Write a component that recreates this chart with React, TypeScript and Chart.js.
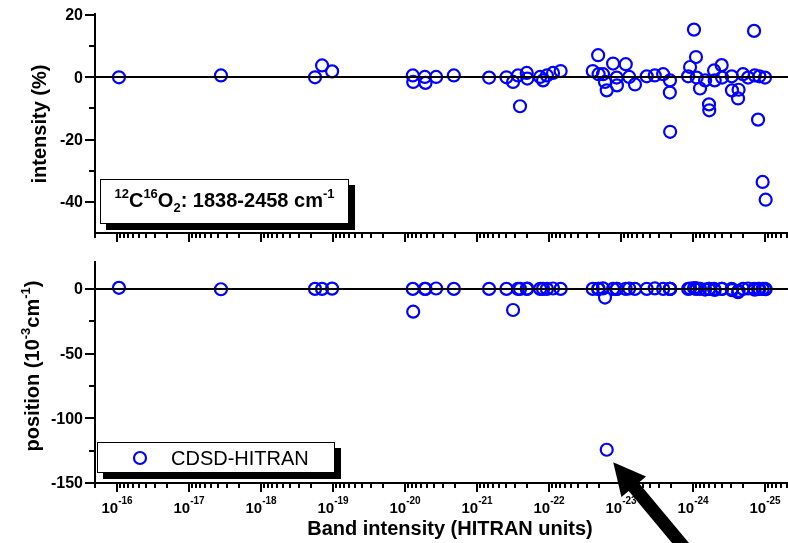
import { useEffect, useRef } from "react";
import { Chart, registerables } from "chart.js";

Chart.register(...registerables);

const FONT = '"Liberation Sans", Arial, Helvetica, sans-serif';
const BLUE = "#0000ff";

// Band intensity of each line (HITRAN units)
const bandIntensity = [
  9.4e-17, 3.6e-18, 1.78e-19, 1.42e-19, 1.03e-19,
  7.8e-21, 7.7e-21, 5.3e-21, 5.2e-21, 3.7e-21, 2.1e-21,
  6.8e-22, 3.9e-22, 3.16e-22, 2.7e-22, 2.53e-22, 2.04e-22, 2.0e-22,
  1.33e-22, 1.21e-22, 1.07e-22, 8.8e-23, 6.9e-23,
  2.47e-23, 2.08e-23, 2.05e-23, 1.78e-23, 1.67e-23, 1.58e-23, 1.29e-23,
  1.15e-23, 1.14e-23, 8.6e-24, 7.7e-24, 6.4e-24, 4.4e-24, 3.4e-24,
  2.6e-24, 2.09e-24, 2.1e-24, 2.08e-24, 1.17e-24, 1.1e-24, 9.7e-25,
  9.1e-25, 8.9e-25, 8.0e-25, 6.8e-25, 6.0e-25, 5.95e-25, 5.1e-25,
  5.0e-25, 4.0e-25, 3.95e-25, 2.9e-25, 2.88e-25, 2.37e-25, 2.33e-25,
  2.02e-25, 1.72e-25, 1.42e-25, 1.39e-25, 1.25e-25, 1.2e-25, 1.08e-25,
  1.0e-25, 9.8e-26,
];

// Relative intensity difference CDSD vs HITRAN (%)
const intensityDeviation = [
  0, 0.6, 0, 3.8, 1.9,
  0.6, -1.5, 0.1, -1.8, 0.1, 0.6,
  -0.1, 0, -1.5, 0.6, -9.3, 1.4, -0.4,
  0.1, -1.0, 0.6, 1.4, 2.0,
  2.0, 7.1, 1.0, 1.0, -1.5, -4.2, 4.4,
  -0.1, -2.6, 4.2, 0.1, -2.3, 0.3, 0.6,
  1.0, -1.0, -4.9, -17.5, 0.3, 3.3, 15.3,
  6.5, -0.1, -3.6, -1.0, -8.7, -10.6, 2.2,
  -1.0, 3.9, -0.1, 0.3, -4.2, -6.8, -4.0,
  1.0, -0.1, 14.9, 0.6, -13.6, 0.3, -33.6,
  -0.1, -39.3,
];

// Line position difference CDSD vs HITRAN (10^-3 cm^-1)
const positionDeviation = [
  0.8, -0.3, 0, 0, 0.2,
  0, -17.6, 0, 0, 0.3, 0,
  0, 0, -16.3, 0, 0, 0, 0.2,
  0, 0, 0, 0.3, 0,
  0, 0, 0, 0.4, -6.7, -124.3, 0,
  0, 0, 0, 0.3, 0, 0, 0.4,
  0, 0, 0, 0, 0, 0.3, 0.6,
  0, 0.4, 0, -0.5, 0, 0, 0,
  -0.8, 0, 0, 0, -1.0, -2.5, -1.5,
  0, 0.3, 0, -0.6, 0, 0, 0,
  0, -0.3,
];

// Decade exponents labelled on the band-intensity axis
const decadeExponents = [-16, -17, -18, -19, -20, -21, -22, -23, -24, -25];
const intensityMajorTicks = [20, 0, -20, -40];
const intensityMinorTicks = [10, -10, -30];
const positionMajorTicks = [0, -50, -100, -150];
const positionMinorTicks = [-25, -75, -125];

const X_MIN = Math.pow(10, -25.319);
const X_MAX = Math.pow(10, -15.694);

type Run = { t: string; size: number; dy?: number; weight?: string };

function fontFor(r: Run) {
  return `${r.weight ?? "bold"} ${r.size}px ${FONT}`;
}

function runsWidth(ctx: CanvasRenderingContext2D, runs: Run[]) {
  let w = 0;
  for (const r of runs) {
    ctx.font = fontFor(r);
    w += ctx.measureText(r.t).width;
  }
  return w;
}

function drawRuns(
  ctx: CanvasRenderingContext2D,
  runs: Run[],
  x: number,
  y: number,
  align: "left" | "center" | "right"
) {
  const w = runsWidth(ctx, runs);
  let cx = align === "left" ? x : align === "center" ? x - w / 2 : x - w;
  ctx.textAlign = "left";
  ctx.textBaseline = "alphabetic";
  for (const r of runs) {
    ctx.font = fontFor(r);
    ctx.fillText(r.t, cx, y + (r.dy ?? 0));
    cx += ctx.measureText(r.t).width;
  }
}

function seg(ctx: CanvasRenderingContext2D, x1: number, y1: number, x2: number, y2: number) {
  ctx.beginPath();
  ctx.moveTo(x1, y1);
  ctx.lineTo(x2, y2);
  ctx.stroke();
}

function shadowBox(ctx: CanvasRenderingContext2D, x: number, y: number, w: number, h: number) {
  ctx.fillStyle = "#000";
  ctx.fillRect(x + 6, y + 6, w, h);
  ctx.fillStyle = "#fff";
  ctx.fillRect(x, y, w, h);
  ctx.strokeStyle = "#000";
  ctx.lineWidth = 1;
  ctx.strokeRect(x + 0.5, y + 0.5, w - 1, h - 1);
}

type FrameOptions = {
  yMajor: number[];
  yMinor: number[];
  xLabels: boolean;
  yTitle: Run[];
  yTitleX: number;
  yTitleY: number;
  decorate?: (ctx: CanvasRenderingContext2D, chart: Chart) => void;
};

function framePlugin(o: FrameOptions) {
  return {
    id: "frame",
    afterDatasetsDraw(chart: Chart) {
      const ctx = chart.ctx;
      const a = chart.chartArea;
      const xs = chart.scales.x;
      const ys = chart.scales.y;
      ctx.save();
      ctx.strokeStyle = "#000";
      ctx.fillStyle = "#000";
      ctx.lineCap = "butt";

      // zero reference line
      ctx.lineWidth = 2;
      const y0 = Math.round(ys.getPixelForValue(0));
      seg(ctx, a.left, y0, a.right, y0);

      // axis lines
      seg(ctx, a.left, a.top - 2, a.left, a.bottom + 1);
      seg(ctx, a.left - 1, a.bottom, a.right, a.bottom);

      // y ticks
      ctx.lineWidth = 2;
      for (const v of o.yMajor) {
        const p = Math.round(ys.getPixelForValue(v));
        seg(ctx, a.left - 10, p, a.left, p);
      }
      for (const v of o.yMinor) {
        const p = Math.round(ys.getPixelForValue(v));
        seg(ctx, a.left - 6, p, a.left, p);
      }
      ctx.font = `bold 16px ${FONT}`;
      ctx.textAlign = "right";
      ctx.textBaseline = "middle";
      for (const v of o.yMajor) {
        const p = ys.getPixelForValue(v);
        ctx.fillText(String(v), a.left - 12, p + 1);
      }

      // x ticks (log decades with 2..9 subdivisions)
      for (const e of decadeExponents) {
        const p = Math.round(xs.getPixelForValue(Math.pow(10, e)));
        seg(ctx, p, a.bottom, p, a.bottom + 9);
      }
      for (let e = -26; e <= -16; e++) {
        for (let k = 2; k <= 9; k++) {
          const v = k * Math.pow(10, e);
          if (v < X_MIN || v > X_MAX) continue;
          const p = Math.round(xs.getPixelForValue(v));
          seg(ctx, p, a.bottom, p, a.bottom + 5);
        }
      }
      if (o.xLabels) {
        for (const e of decadeExponents) {
          const p = xs.getPixelForValue(Math.pow(10, e));
          drawRuns(
            ctx,
            [
              { t: "10", size: 15 },
              { t: String(e), size: 10, dy: -9 },
            ],
            p,
            a.bottom + 30,
            "center"
          );
        }
      }

      // y axis title
      ctx.save();
      ctx.translate(o.yTitleX, o.yTitleY);
      ctx.rotate(-Math.PI / 2);
      drawRuns(ctx, o.yTitle, 0, 0, "center");
      ctx.restore();

      if (o.decorate) o.decorate(ctx, chart);
      ctx.restore();
    },
  };
}

function baseConfig(ys: number[], yMin: number, yMax: number, padding: any, plugin: any): any {
  return {
    type: "scatter",
    data: {
      datasets: [
        {
          label: "CDSD-HITRAN",
          data: bandIntensity.map((x, i) => ({ x, y: ys[i] })),
          pointStyle: "circle",
          pointRadius: 6,
          borderWidth: 2.2,
          borderColor: BLUE,
          backgroundColor: "rgba(0,0,0,0)",
          clip: false,
        },
      ],
    },
    options: {
      animation: false,
      responsive: false,
      events: [],
      layout: { padding, autoPadding: false },
      plugins: { legend: { display: false }, tooltip: { enabled: false } },
      scales: {
        x: { type: "logarithmic", min: X_MIN, max: X_MAX, reverse: true, display: false },
        y: { type: "linear", min: yMin, max: yMax, display: false },
      },
    },
    plugins: [plugin],
  };
}

export default function App() {
  const topRef = useRef<HTMLCanvasElement>(null);
  const bottomRef = useRef<HTMLCanvasElement>(null);

  useEffect(() => {
    const topPlugin = framePlugin({
      yMajor: intensityMajorTicks,
      yMinor: intensityMinorTicks,
      xLabels: false,
      yTitle: [{ t: "intensity (%)", size: 20 }],
      yTitleX: 46,
      yTitleY: 124,
      decorate: (ctx, chart) => {
        const a = chart.chartArea;
        const bx = a.left + 5;
        const by = a.bottom - 54;
        const bw = 249;
        const bh = 45;
        shadowBox(ctx, bx, by, bw, bh);
        ctx.fillStyle = "#000";
        drawRuns(
          ctx,
          [
            { t: "12", size: 13, dy: -9 },
            { t: "C", size: 20 },
            { t: "16", size: 13, dy: -9 },
            { t: "O", size: 20 },
            { t: "2", size: 13, dy: 5 },
            { t: ": 1838-2458 cm", size: 20 },
            { t: "-1", size: 13, dy: -9 },
          ],
          bx + bw / 2,
          by + 28,
          "center"
        );
      },
    });

    const bottomPlugin = framePlugin({
      yMajor: positionMajorTicks,
      yMinor: positionMinorTicks,
      xLabels: true,
      yTitle: [
        { t: "position (10", size: 20 },
        { t: "-3", size: 13, dy: -9 },
        { t: "cm", size: 20 },
        { t: "-1", size: 13, dy: -9 },
        { t: ")", size: 20 },
      ],
      yTitleX: 39,
      yTitleY: 116,
      decorate: (ctx, chart) => {
        const a = chart.chartArea;
        // x axis title
        ctx.fillStyle = "#000";
        drawRuns(ctx, [{ t: "Band intensity (HITRAN units)", size: 20 }], 450, a.bottom + 52, "center");

        // legend
        const bx = a.left + 2;
        const by = a.bottom - 41;
        const bw = 238;
        const bh = 31;
        shadowBox(ctx, bx, by, bw, bh);
        ctx.strokeStyle = BLUE;
        ctx.lineWidth = 2.2;
        ctx.beginPath();
        ctx.arc(bx + 43, by + 16, 6, 0, Math.PI * 2);
        ctx.stroke();
        ctx.fillStyle = "#000";
        drawRuns(ctx, [{ t: "CDSD-HITRAN", size: 20, weight: "normal" }], bx + 74, by + 23, "left");

        // arrow pointing at the largest position outlier
        let idx = 0;
        positionDeviation.forEach((v, i) => {
          if (v < positionDeviation[idx]) idx = i;
        });
        const pt = chart.getDatasetMeta(0).data[idx] as any;
        const tx = pt.x + 6.5;
        const ty = pt.y + 12.5;
        const dx = 0.64;
        const dy = 0.768;
        const nx = -dy;
        const ny = dx;
        const L = 32;
        const W = 16;
        const w = 6.5;
        const len = 140;
        const bxp = tx + dx * L;
        const byp = ty + dy * L;
        const ex = tx + dx * len;
        const ey = ty + dy * len;
        ctx.fillStyle = "#000";
        ctx.beginPath();
        ctx.moveTo(tx, ty);
        ctx.lineTo(bxp + nx * W, byp + ny * W);
        ctx.lineTo(bxp + nx * w, byp + ny * w);
        ctx.lineTo(ex + nx * w, ey + ny * w);
        ctx.lineTo(ex - nx * w, ey - ny * w);
        ctx.lineTo(bxp - nx * w, byp - ny * w);
        ctx.lineTo(bxp - nx * W, byp - ny * W);
        ctx.closePath();
        ctx.fill();
      },
    });

    const top = new Chart(
      topRef.current!,
      baseConfig(intensityDeviation, -50, 20, { left: 95, top: 15, right: 0, bottom: 17 }, topPlugin)
    );
    const bottom = new Chart(
      bottomRef.current!,
      baseConfig(positionDeviation, -150, 20, { left: 95, top: 13, right: 0, bottom: 60 }, bottomPlugin)
    );
    return () => {
      top.destroy();
      bottom.destroy();
    };
  }, []);

  return (
    <div style={{ position: "absolute", left: 0, top: 0, width: 788, height: 543, background: "#fff", overflow: "hidden" }}>
      <canvas ref={topRef} width={788} height={250} style={{ position: "absolute", left: 0, top: 0, width: 788, height: 250 }} />
      <canvas ref={bottomRef} width={788} height={293} style={{ position: "absolute", left: 0, top: 250, width: 788, height: 293 }} />
    </div>
  );
}
